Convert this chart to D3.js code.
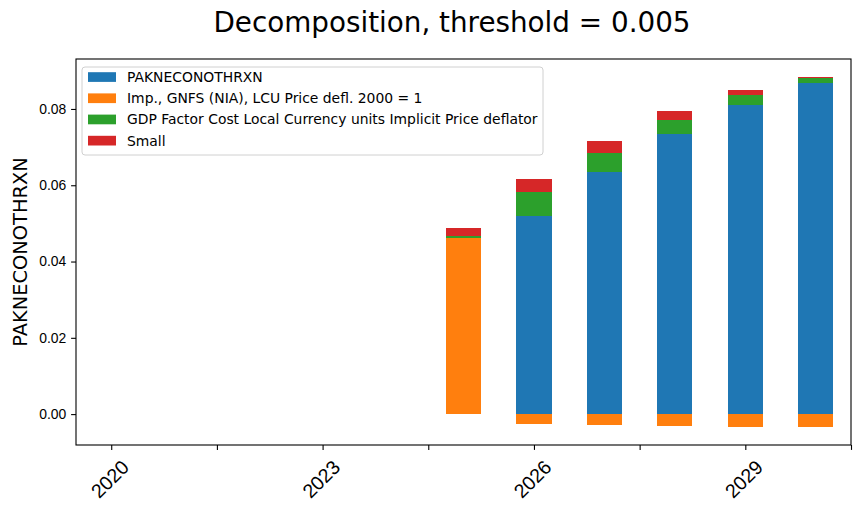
<!DOCTYPE html>
<html>
<head>
<meta charset="utf-8">
<script src="https://cdn.jsdelivr.net/npm/d3@7"></script>
<style>
  body { margin: 0; background: #fff; }
  svg { font-family: "DejaVu Sans", sans-serif; }
</style>
</head>
<body>
<svg id="chart" width="860" height="514"></svg>
<script>
// data
const years = [2020, 2021, 2022, 2023, 2024, 2025, 2026, 2027, 2028, 2029, 2030];
const seriesNames = [
  "PAKNECONOTHRXN",
  "Imp., GNFS (NIA), LCU Price defl. 2000 = 1",
  "GDP Factor Cost Local Currency units Implicit Price deflator",
  "Small"
];
const own   = [0, 0, 0, 0, 0, 0,       0.0520,  0.0636,  0.0735,  0.0811,  0.0867];
const imp   = [0, 0, 0, 0, 0, 0.0462, -0.0026, -0.0029, -0.0031, -0.0034, -0.0034];
const gdpfc = [0, 0, 0, 0, 0, 0.0005,  0.0063,  0.0049,  0.0037,  0.0026,  0.0015];
const small = [0, 0, 0, 0, 0, 0.0021,  0.0034,  0.0032,  0.0023,  0.0013,  0.0003];
const colors = ["#1f77b4", "#ff7f0e", "#2ca02c", "#d62728"];
const yTicks = [0, 0.02, 0.04, 0.06, 0.08];
const xTicks = [0, 1.5, 3, 4.5, 6, 7.5, 9, 10.5];

const rows = years.map((y, i) => ({ i: i, s0: own[i], s1: imp[i], s2: gdpfc[i], s3: small[i] }));
const keys = ["s0", "s1", "s2", "s3"];

const margin = { top: 59, left: 76, right: 9, bottom: 69 };
const W = 860, H = 514;
const width = W - margin.left - margin.right;
const height = H - margin.top - margin.bottom;

const svg = d3.select("#chart");
const g = svg.append("g").attr("transform", `translate(${margin.left},${margin.top})`);

const x = d3.scaleLinear().domain([-0.5, 10.5]).range([0, width]);
const y = d3.scaleLinear().domain([-0.0081, 0.0931]).range([height, 0]);

// positives stack upward, negatives downward (like pandas stacked bars)
const stacked = d3.stack().keys(keys).offset(d3.stackOffsetDiverging)(rows);
const barW = x(0.5) - x(0);

stacked.forEach((layer, k) => {
  g.append("g").attr("fill", colors[k]).attr("shape-rendering", "crispEdges")
    .selectAll("rect")
    .data(layer.filter(d => d[1] !== d[0]))
    .join("rect")
    .attr("x", d => x(d.data.i) - barW / 2)
    .attr("width", barW)
    .attr("y", d => y(Math.max(d[0], d[1])))
    .attr("height", d => Math.abs(y(d[0]) - y(d[1])));
});

// y axis
const yAxis = g.append("g")
  .call(d3.axisLeft(y).tickValues(yTicks).tickFormat(d3.format(".2f")).tickSize(4.9).tickPadding(4.9));
yAxis.selectAll("text").attr("font-size", 13.9).attr("fill", "#000");

// x axis, only whole years get a label
const xAxis = g.append("g").attr("transform", `translate(0,${height})`)
  .call(d3.axisBottom(x).tickValues(xTicks).tickFormat("").tickSize(4.9));
xAxis.selectAll(".tick")
  .filter(d => Number.isInteger(d))
  .append("text")
  .attr("transform", "translate(-2,34) rotate(-45)")
  .attr("text-anchor", "middle")
  .attr("dominant-baseline", "central")
  .attr("font-size", 19.6)
  .attr("fill", "#000")
  .text(d => years[d]);

svg.selectAll(".domain").remove();
svg.selectAll(".tick line").attr("stroke", "#000").attr("stroke-width", 1.1);

// frame
g.append("rect").attr("width", width).attr("height", height)
  .attr("fill", "none").attr("stroke", "#000").attr("stroke-width", 1.1);

// title and label
svg.append("text").attr("x", 452).attr("y", 32).attr("text-anchor", "middle")
  .attr("font-size", 27.8).text("Decomposition, threshold = 0.005");
svg.append("text")
  .attr("transform", `translate(27,${margin.top + height / 2}) rotate(-90)`)
  .attr("text-anchor", "middle").attr("font-size", 19.4).text("PAKNECONOTHRXN");

// legend
const leg = g.append("g").attr("transform", "translate(6,8)");
leg.append("rect").attr("width", 461).attr("height", 88).attr("rx", 3)
  .attr("fill", "#fff").attr("fill-opacity", 0.8)
  .attr("stroke", "#d0d0d0").attr("stroke-width", 1);
seriesNames.forEach((name, k) => {
  const row = leg.append("g").attr("transform", `translate(6,${10 + k * 21.2})`);
  row.append("rect").attr("width", 28).attr("height", 9.7).attr("y", -4.8).attr("fill", colors[k]);
  row.append("text").attr("x", 39).attr("dominant-baseline", "central")
    .attr("font-size", 13.9).text(name);
});
</script>
</body>
</html>
